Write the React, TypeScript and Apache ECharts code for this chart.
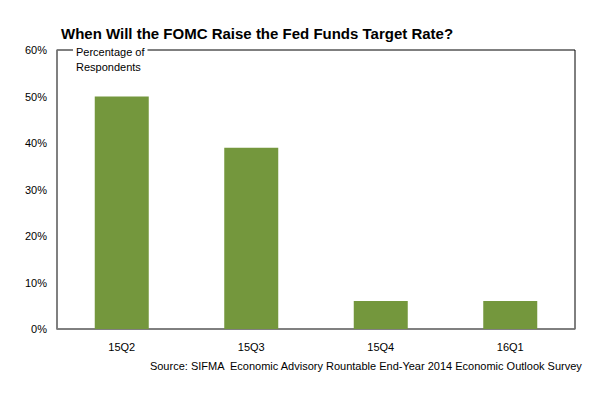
import React, { useEffect, useRef } from "react";
import * as echarts from "echarts";

const categories = ["15Q2", "15Q3", "15Q4", "16Q1"];
const values = [50, 39, 6, 6];
const title = "When Will the FOMC Raise the Fed Funds Target Rate?";
const yName = "Percentage of\nRespondents";
const source = "Source: SIFMA  Economic Advisory Rountable End-Year 2014 Economic Outlook Survey";

const FONT = "'Liberation Sans', Arial, sans-serif";

export default function App() {
  const ref = useRef<HTMLDivElement>(null);
  useEffect(() => {
    document.body.style.margin = "0";
    const chart = echarts.init(ref.current!, null, { renderer: "svg" });
    chart.setOption({
      animation: false,
      backgroundColor: "#ffffff",
      textStyle: { fontFamily: FONT },
      title: {
        text: title,
        left: 56,
        top: 21,
        textStyle: { fontFamily: FONT, fontSize: 15, fontWeight: "bold", color: "#000" },
      },
      grid: {
        left: 57,
        right: 38,
        top: 50,
        bottom: 69,
        show: true,
        borderColor: "#000",
        borderWidth: 1,
        backgroundColor: "transparent",
      },
      xAxis: {
        type: "category",
        data: categories,
        axisLine: { show: true, lineStyle: { color: "#808080", width: 1.5 } },
        axisTick: { show: false },
        axisLabel: { color: "#000", fontSize: 11, margin: 12, fontFamily: FONT },
      },
      yAxis: {
        type: "value",
        min: 0,
        max: 60,
        interval: 10,
        axisLine: { show: true, lineStyle: { color: "#808080", width: 1.5 } },
        axisTick: { show: false },
        splitLine: { show: false },
        axisLabel: { formatter: "{value}%", color: "#000", fontSize: 11, margin: 10, fontFamily: FONT },
      },
      graphic: [
        {
          type: "text",
          left: 73,
          top: 44,
          z: 100,
          style: {
            text: yName,
            fontSize: 11,
            lineHeight: 15,
            fontFamily: FONT,
            fill: "#000",
            backgroundColor: "#fff",
            padding: [0, 3, 0, 3],
          },
        },
        {
          type: "text",
          right: 30,
          top: 360,
          style: { text: source, fontSize: 11, fontFamily: FONT, fill: "#000" },
        },
      ],
      series: [
        {
          type: "bar",
          data: values,
          barWidth: 54,
          itemStyle: { color: "#74973d" },
        },
      ],
    });
    return () => chart.dispose();
  }, []);
  return <div ref={ref} style={{ width: 613, height: 398 }} />;
}
